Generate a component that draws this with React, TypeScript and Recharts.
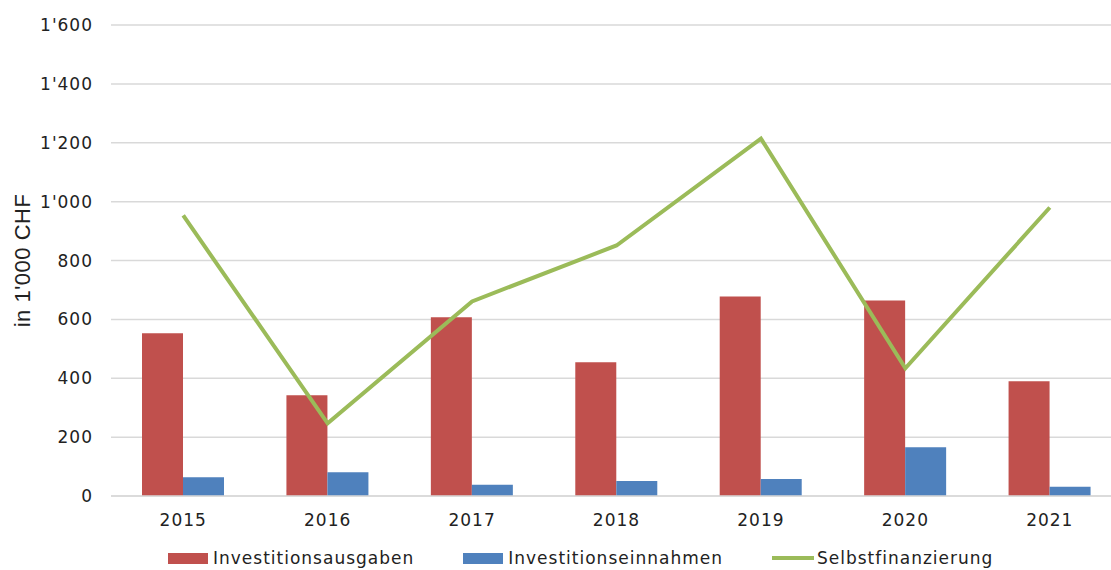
import React from "react";
import {
  ComposedChart,
  Bar,
  Line,
  XAxis,
  YAxis,
  CartesianGrid,
  Legend,
} from "recharts";

const years = ["2015", "2016", "2017", "2018", "2019", "2020", "2021"];
const ausgaben = [553, 342, 607, 454, 678, 664, 390];
const einnahmen = [64, 81, 38, 51, 58, 166, 31];
const selbstfinanzierung = [953, 247, 661, 851, 1214, 434, 980];
const yTicks = [0, 200, 400, 600, 800, 1000, 1200, 1400, 1600];

const RED = "#C0504D";
const BLUE = "#4F81BD";
const GREEN = "#9BBB59";
const FONT = "'DejaVu Sans', Verdana, sans-serif";

const data = years.map((year, i) => ({
  year,
  Investitionsausgaben: ausgaben[i],
  Investitionseinnahmen: einnahmen[i],
  Selbstfinanzierung: selbstfinanzierung[i],
}));

const formatTick = (v: number) =>
  String(v).replace(/\B(?=(\d{3})+(?!\d))/g, "'");

function ChartLegend() {
  const items = [
    { name: "Investitionsausgaben", color: RED, type: "bar" },
    { name: "Investitionseinnahmen", color: BLUE, type: "bar" },
    { name: "Selbstfinanzierung", color: GREEN, type: "line" },
  ];
  return (
    <div
      style={{
        display: "flex",
        paddingLeft: 168,
        paddingTop: 12,
        gap: 49,
        fontFamily: FONT,
        fontSize: 17,
        letterSpacing: 1,
        color: "#222",
        lineHeight: "20px",
      }}
    >
      {items.map((it) => (
        <div key={it.name} style={{ display: "flex", alignItems: "center" }}>
          {it.type === "bar" ? (
            <span
              style={{
                display: "inline-block",
                width: 40,
                height: 11,
                background: it.color,
                marginRight: 5,
              }}
            />
          ) : (
            <span
              style={{
                display: "inline-block",
                width: 42,
                height: 4,
                background: it.color,
                marginRight: 3,
              }}
            />
          )}
          <span>{it.name}</span>
        </div>
      ))}
    </div>
  );
}

export default function App() {
  return (
    <div
      style={{
        position: "absolute",
        left: 0,
        top: 0,
        width: 1111,
        height: 570,
        background: "#fff",
        overflow: "hidden",
      }}
    >
      <ComposedChart
        width={1122}
        height={570}
        data={data}
        margin={{ top: 25, right: 0, bottom: 0, left: 0 }}
        barGap={0}
      >
        <CartesianGrid vertical={false} stroke="#D9D9D9" strokeWidth={1.5} />
        <XAxis
          dataKey="year"
          height={40}
          tickSize={0}
          tickMargin={18}
          axisLine={{ stroke: "#D9D9D9", strokeWidth: 1.5 }}
          tick={{ fontSize: 17, fontFamily: FONT, fill: "#222", letterSpacing: 1 }}
        />
        <YAxis
          width={111}
          domain={[0, 1600]}
          ticks={yTicks}
          tickFormatter={formatTick}
          axisLine={false}
          tickLine={false}
          tickSize={0}
          tickMargin={18}
          tick={{ fontSize: 17, fontFamily: FONT, fill: "#222", letterSpacing: 1 }}
          label={{
            value: "in 1'000 CHF",
            angle: -90,
            position: "insideLeft",
            dx: 17,
            style: {
              fontSize: 22,
              fontFamily: "'Liberation Sans', Arial, sans-serif",
              fill: "#222",
              textAnchor: "middle",
              letterSpacing: 0.5,
            },
          }}
        />
        <Legend
          verticalAlign="bottom"
          height={34}
          content={<ChartLegend />}
          wrapperStyle={{ left: 0, width: 1111 }}
        />
        <Bar
          dataKey="Investitionsausgaben"
          fill={RED}
          barSize={41}
          isAnimationActive={false}
        />
        <Bar
          dataKey="Investitionseinnahmen"
          fill={BLUE}
          barSize={41}
          isAnimationActive={false}
        />
        <Line
          dataKey="Selbstfinanzierung"
          stroke={GREEN}
          strokeWidth={4}
          dot={false}
          activeDot={false}
          isAnimationActive={false}
        />
      </ComposedChart>
    </div>
  );
}
